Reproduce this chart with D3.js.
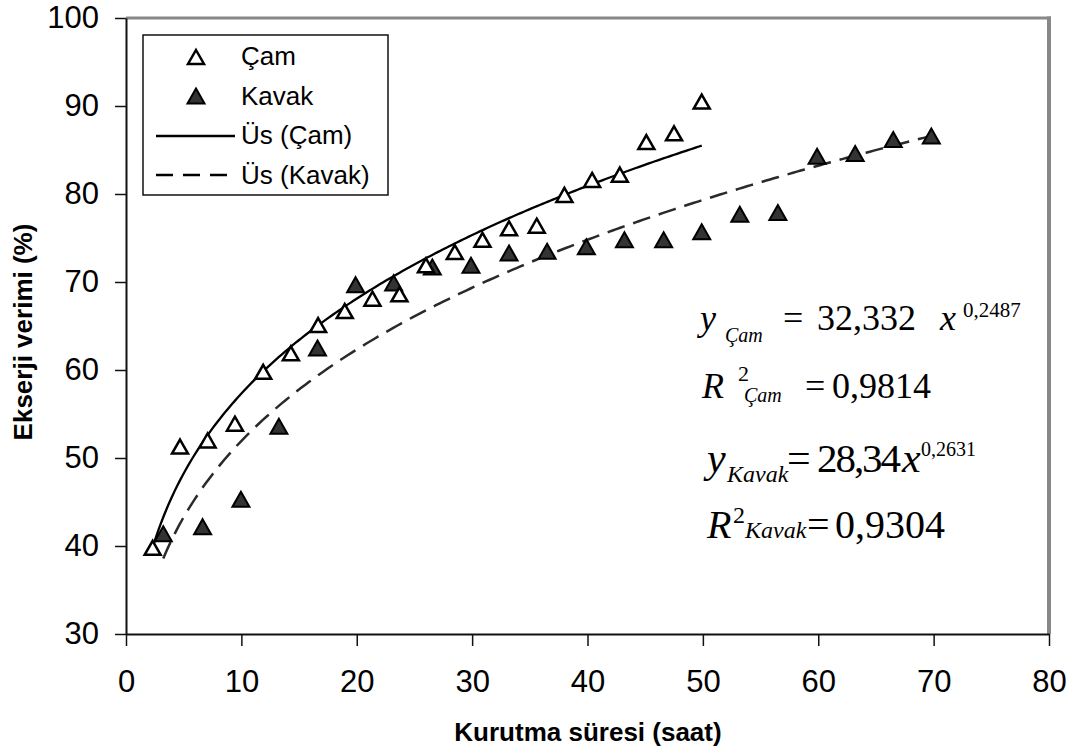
<!DOCTYPE html>
<html>
<head>
<meta charset="utf-8">
<script src="https://cdn.jsdelivr.net/npm/d3@7"></script>
<style>
  body { margin: 0; background: #fff; }
  svg { display: block; }
</style>
</head>
<body>
<script>
// Çam (pine) – open triangles
const camX = [2.31, 4.68, 7.07, 9.44, 11.89, 14.29, 16.65, 18.96, 21.36, 23.7, 26.0,
  28.5, 30.9, 33.2, 35.6, 38.0, 40.4, 42.8, 45.1, 47.5, 49.9];
const camY = [39.8, 51.3, 52.0, 53.9, 59.8, 61.9, 65.1, 66.7, 68.1, 68.6, 71.9,
  73.4, 74.8, 76.1, 76.4, 79.9, 81.6, 82.2, 85.9, 86.9, 90.5];

// Kavak (poplar) – filled triangles
const kavakX = [3.23, 6.64, 9.96, 13.25, 16.6, 19.9, 23.2, 26.55, 29.9, 33.2, 36.5,
  39.9, 43.2, 46.6, 49.9, 53.2, 56.5, 59.9, 63.2, 66.5, 69.8];
const kavakY = [41.4, 42.2, 45.3, 53.6, 62.5, 69.7, 69.9, 71.7, 71.9, 73.3, 73.5,
  74.0, 74.8, 74.8, 75.7, 77.7, 77.9, 84.3, 84.6, 86.2, 86.6];

// power trendlines y = a * x^b (coefficients printed on the chart)
const fitCam = [32.332, 0.2487];
const fitKavak = [28.34, 0.2631];

const xTicks = [0, 10, 20, 30, 40, 50, 60, 70, 80];
const yTicks = [30, 40, 50, 60, 70, 80, 90, 100];

const width = 1078;
const height = 753;

const svg = d3.select("body").append("svg")
  .attr("width", width)
  .attr("height", height);

const x = d3.scaleLinear().domain([0, 80]).range([126, 1049]);
const y = d3.scaleLinear().domain([30, 100]).range([634, 18]);

// frame: top and right in gray
svg.append("line")
  .attr("x1", x(0)).attr("x2", x(80) + 2)
  .attr("y1", y(100)).attr("y2", y(100))
  .attr("stroke", "#888").attr("stroke-width", 3);
svg.append("line")
  .attr("x1", x(80)).attr("x2", x(80))
  .attr("y1", y(100) - 1.5).attr("y2", y(30))
  .attr("stroke", "#888").attr("stroke-width", 4);

const xAxis = d3.axisBottom(x).tickValues(xTicks).tickSize(12).tickSizeOuter(0).tickPadding(24);
const yAxis = d3.axisLeft(y).tickValues(yTicks).tickSize(11).tickSizeOuter(0).tickPadding(16);

const gx = svg.append("g")
  .attr("transform", `translate(0, ${y(30)})`)
  .call(xAxis);
const gy = svg.append("g")
  .attr("transform", `translate(${x(0)}, 0)`)
  .call(yAxis);

[gx, gy].forEach((g) => {
  g.attr("font-size", 31).attr("font-family", "'Liberation Sans', Arial, sans-serif");
  g.select(".domain").attr("stroke", "#111").attr("stroke-width", 2);
  g.selectAll(".tick line").attr("stroke", "#111").attr("stroke-width", 1.5);
  g.selectAll(".tick text").attr("fill", "#000");
});

// axis titles
svg.append("text")
  .attr("x", 588).attr("y", 741)
  .attr("text-anchor", "middle")
  .attr("font-family", "'Liberation Sans', Arial, sans-serif")
  .attr("font-weight", "bold")
  .attr("font-size", 26)
  .text("Kurutma süresi (saat)");

svg.append("text")
  .attr("transform", "translate(32, 332) rotate(-90)")
  .attr("text-anchor", "middle")
  .attr("font-family", "'Liberation Sans', Arial, sans-serif")
  .attr("font-weight", "bold")
  .attr("font-size", 26)
  .text("Ekserji verimi (%)");

// trendlines
const curve = (fit, x0, x1) =>
  d3.range(0, 201).map((i) => {
    const xv = x0 + (x1 - x0) * i / 200;
    return [xv, fit[0] * Math.pow(xv, fit[1])];
  });

const line = d3.line().x((d) => x(d[0])).y((d) => y(d[1]));

svg.append("path")
  .attr("d", line(curve(fitCam, d3.min(camX), d3.max(camX))))
  .attr("fill", "none")
  .attr("stroke", "#000")
  .attr("stroke-width", 2.3);

svg.append("path")
  .attr("d", line(curve(fitKavak, d3.min(kavakX), d3.max(kavakX))))
  .attr("fill", "none")
  .attr("stroke", "#2a2a2a")
  .attr("stroke-width", 2.5)
  .attr("stroke-dasharray", "18,9");

// triangle marker
const tri = (w, h) => `M0,${-h / 2}L${w / 2},${h / 2}L${-w / 2},${h / 2}Z`;

svg.append("g").selectAll("path")
  .data(kavakX.map((d, i) => [d, kavakY[i]]))
  .enter().append("path")
  .attr("d", tri(17, 15))
  .attr("transform", (d) => `translate(${x(d[0])}, ${y(d[1])})`)
  .attr("fill", "#333")
  .attr("stroke", "#000")
  .attr("stroke-width", 2)
  .attr("stroke-linejoin", "miter");

svg.append("g").selectAll("path")
  .data(camX.map((d, i) => [d, camY[i]]))
  .enter().append("path")
  .attr("d", tri(16, 14))
  .attr("transform", (d) => `translate(${x(d[0])}, ${y(d[1])})`)
  .attr("fill", "#fff")
  .attr("stroke", "#000")
  .attr("stroke-width", 2.5)
  .attr("stroke-linejoin", "miter");

// legend
const legend = svg.append("g");
legend.append("rect")
  .attr("x", 143).attr("y", 35)
  .attr("width", 245).attr("height", 160)
  .attr("fill", "#fff")
  .attr("stroke", "#111")
  .attr("stroke-width", 1.5);

const legendItems = ["Çam", "Kavak", "Üs (Çam)", "Üs (Kavak)"];
legend.selectAll("text")
  .data(legendItems)
  .enter().append("text")
  .attr("x", 241)
  .attr("y", (d, i) => 65 + i * 39.5)
  .attr("font-family", "'Liberation Sans', Arial, sans-serif")
  .attr("font-size", 26)
  .text((d) => d);

legend.append("path")
  .attr("d", tri(16, 14))
  .attr("transform", "translate(196, 57)")
  .attr("fill", "#fff").attr("stroke", "#000").attr("stroke-width", 2.5);
legend.append("path")
  .attr("d", tri(17, 15))
  .attr("transform", "translate(196, 96)")
  .attr("fill", "#333").attr("stroke", "#000").attr("stroke-width", 2);
legend.append("line")
  .attr("x1", 156).attr("x2", 235).attr("y1", 136).attr("y2", 136)
  .attr("stroke", "#000").attr("stroke-width", 2.5);
legend.append("line")
  .attr("x1", 156).attr("x2", 235).attr("y1", 175).attr("y2", 175)
  .attr("stroke", "#000").attr("stroke-width", 2.5)
  .attr("stroke-dasharray", "17,10");

// equations
const eq = svg.append("g")
  .attr("font-family", "'Liberation Serif', 'Times New Roman', serif")
  .attr("fill", "#000");

const put = (txt, px, py, size, italic) =>
  eq.append("text")
    .attr("x", px).attr("y", py)
    .attr("font-size", size)
    .attr("font-style", italic ? "italic" : "normal")
    .text(txt);

put("y", 700, 330, 36, true);
put("Çam", 725, 342, 20, true);
put("=", 783, 330, 36, false);
put("32,332", 817, 330, 36, false);
put("x", 940, 330, 36, true);
put("0,2487", 963, 317, 21, false);

put("R", 702, 398, 36, true);
put("2", 738, 381, 22, false);
put("Çam", 744, 402, 20, true);
put("=", 805, 398, 36, false);
put("0,9814", 832, 398, 36, false);

put("y", 707, 472, 42, true);
put("Kavak", 727, 482, 24, true);
put("=", 787, 472, 42, false);
put("28,34", 817, 472, 41, false)
  .attr("textLength", 84)
  .attr("lengthAdjust", "spacing");
put("x", 902, 472, 42, true);
put("0,2631", 921, 456, 20, false);

put("R", 707, 538, 40, true);
put("2", 733, 523, 24, false);
put("Kavak", 745, 538, 24, true);
put("=", 807, 538, 40, false);
put("0,9304", 835, 538, 40, false);
</script>
</body>
</html>
